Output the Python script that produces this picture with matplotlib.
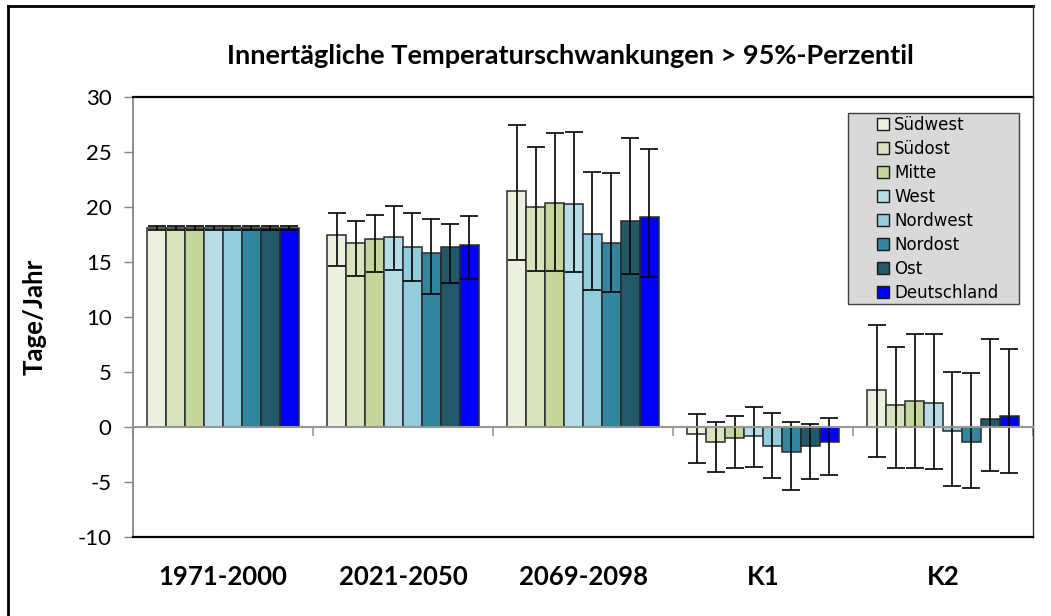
import numpy as np
import matplotlib
matplotlib.use("Agg")
from matplotlib import pyplot as plt
from matplotlib.patches import Patch, Rectangle
from matplotlib.lines import Line2D

plt.rcParams["axes.unicode_minus"] = False

categories = ["1971-2000", "2021-2050", "2069-2098", "K1", "K2"]
regions = ["Südwest", "Südost", "Mitte", "West", "Nordwest", "Nordost", "Ost", "Deutschland"]
colors = ["#EBF1DE", "#D7E4BD", "#C3D69B", "#B7DEE8", "#93CDDD", "#31859C", "#215968", "#0000FF"]

# Tage/Jahr per region and period
sw = [18.1, 17.45, 21.5, -0.6, 3.35]
so = [18.1, 16.7, 20.0, -1.4, 2.0]
mi = [18.1, 17.1, 20.4, -1.0, 2.4]
we = [18.1, 17.25, 20.3, -0.85, 2.2]
nw = [18.1, 16.35, 17.55, -1.75, -0.35]
no = [18.1, 15.8, 16.7, -2.3, -1.4]
os_ = [18.1, 16.35, 18.75, -1.75, 0.75]
de = [18.1, 16.55, 19.1, -1.4, 1.0]

# upper / lower ends of the spread
sw_hi = [18.3, 19.5, 27.5, 1.2, 9.25]
so_hi = [18.3, 18.75, 25.5, 0.5, 7.3]
mi_hi = [18.3, 19.3, 26.7, 1.0, 8.5]
we_hi = [18.3, 20.05, 26.8, 1.8, 8.5]
nw_hi = [18.3, 19.5, 23.2, 1.25, 5.0]
no_hi = [18.3, 18.9, 23.1, 0.45, 4.9]
os_hi = [18.3, 18.5, 26.3, 0.3, 8.0]
de_hi = [18.3, 19.2, 25.3, 0.8, 7.1]

sw_lo = [17.9, 14.6, 15.2, -3.3, -2.7]
so_lo = [17.9, 13.75, 14.2, -4.1, -3.7]
mi_lo = [17.9, 14.1, 14.2, -3.7, -3.7]
we_lo = [17.9, 14.3, 14.1, -3.6, -3.8]
nw_lo = [17.9, 13.3, 12.45, -4.6, -5.4]
no_lo = [17.9, 12.1, 12.3, -5.7, -5.5]
os_lo = [17.9, 13.1, 13.9, -4.7, -4.0]
de_lo = [17.9, 13.5, 13.6, -4.4, -4.2]

values = [sw, so, mi, we, nw, no, os_, de]
highs = [sw_hi, so_hi, mi_hi, we_hi, nw_hi, no_hi, os_hi, de_hi]
lows = [sw_lo, so_lo, mi_lo, we_lo, nw_lo, no_lo, os_lo, de_lo]

W, H = 1051, 616
fig = plt.figure(figsize=(W / 100, H / 100), dpi=100)
fig.patch.set_facecolor("white")

# plot area in pixels: x 133..1033, y 97..537
ax = fig.add_axes([133 / W, 1 - 537 / H, 900 / W, 440 / H])
ax.set_xlim(-0.5, 4.5)
ax.set_ylim(-10, 30)

x = np.arange(len(categories))
bw = 0.8444 / len(regions)
for i, reg in enumerate(regions):
    xs = x - 0.4222 + (i + 0.5) * bw
    v = np.array(values[i])
    yerr = [v - np.array(lows[i]), np.array(highs[i]) - v]
    ax.bar(xs, v, width=bw, color=colors[i], edgecolor="#2a2a2a", linewidth=1.1, label=reg, zorder=2)
    ax.errorbar(xs, v, yerr=yerr, fmt="none", ecolor="black", elinewidth=1.2,
                capsize=6.5, capthick=1.2, zorder=3)

# axes styling
ax.spines["left"].set_color("#868686")
ax.spines["left"].set_linewidth(1.3)
ax.spines["bottom"].set_position(("data", 0))
ax.spines["bottom"].set_color("#969696")
ax.spines["bottom"].set_linewidth(1.5)
ax.spines["bottom"].set_zorder(4)
ax.spines["top"].set_color("black")
ax.spines["top"].set_linewidth(1.6)
ax.spines["right"].set_color("#303030")
ax.spines["right"].set_linewidth(1.0)
ax.plot([0, 1], [0, 0], transform=ax.transAxes, color="black", lw=1.6, clip_on=False, zorder=5)

ax.set_yticks(np.arange(-10, 31, 5))
ax.tick_params(axis="y", direction="out", length=6.5, width=1, color="#868686",
               labelsize=16, pad=9)
for lab in ax.get_yticklabels():
    lab.set_family("Lato")
ax.set_xticks([-0.5, 0.5, 1.5, 2.5, 3.5, 4.5])
ax.set_xticklabels([])
ax.tick_params(axis="x", direction="out", length=6.5, width=1.2, color="#969696")

for xi, cat in zip(x, categories):
    ax.text(xi, -0.091, cat, transform=ax.get_xaxis_transform(), ha="center", va="center",
            fontsize=18.5, fontweight="bold", family="Lato")

ax.set_ylabel("Tage/Jahr", fontsize=18.5, fontweight="bold", family="Lato")
ax.yaxis.set_label_coords((47 - 133) / 900, (537 - 317) / 440)

fig.text(570 / W, 1 - 56 / H, "Innertägliche Temperaturschwankungen > 95%-Perzentil",
         ha="center", va="center", fontsize=19.5, fontweight="bold", family="Lato")

# legend box
lx0, lx1 = (848 - 133) / 900, (1019 - 133) / 900
ly0, ly1 = (537 - 304) / 440, (537 - 113) / 440
ax.add_patch(Rectangle((lx0, ly0), lx1 - lx0, ly1 - ly0, transform=ax.transAxes,
                       facecolor="#D9D9D9", edgecolor="#404040", linewidth=1.0, zorder=6))
handles = [Patch(facecolor=c, edgecolor="#1a1a1a", linewidth=1.0) for c in colors]
leg = ax.legend(handles, regions, loc="upper left",
                bbox_to_anchor=((873 - 133) / 900, (537 - 112) / 440),
                frameon=False, borderpad=0.25, borderaxespad=0,
                handlelength=0.72, handleheight=0.72, handletextpad=0.3, labelspacing=0.36,
                prop={"family": "DejaVu Sans", "size": 12})
leg.set_zorder(7)

# outer chart frame
fig.add_artist(Line2D([8 / W, 8 / W], [0, 1 - 6 / H], color="black", lw=2.0))
fig.add_artist(Line2D([8 / W, 1033 / W], [1 - 6 / H, 1 - 6 / H], color="black", lw=2.0))
fig.add_artist(Line2D([1033 / W, 1033 / W], [1 - 6 / H, 1 - 97 / H], color="#303030", lw=1.0))

fig.savefig("out.png", dpi=100)
